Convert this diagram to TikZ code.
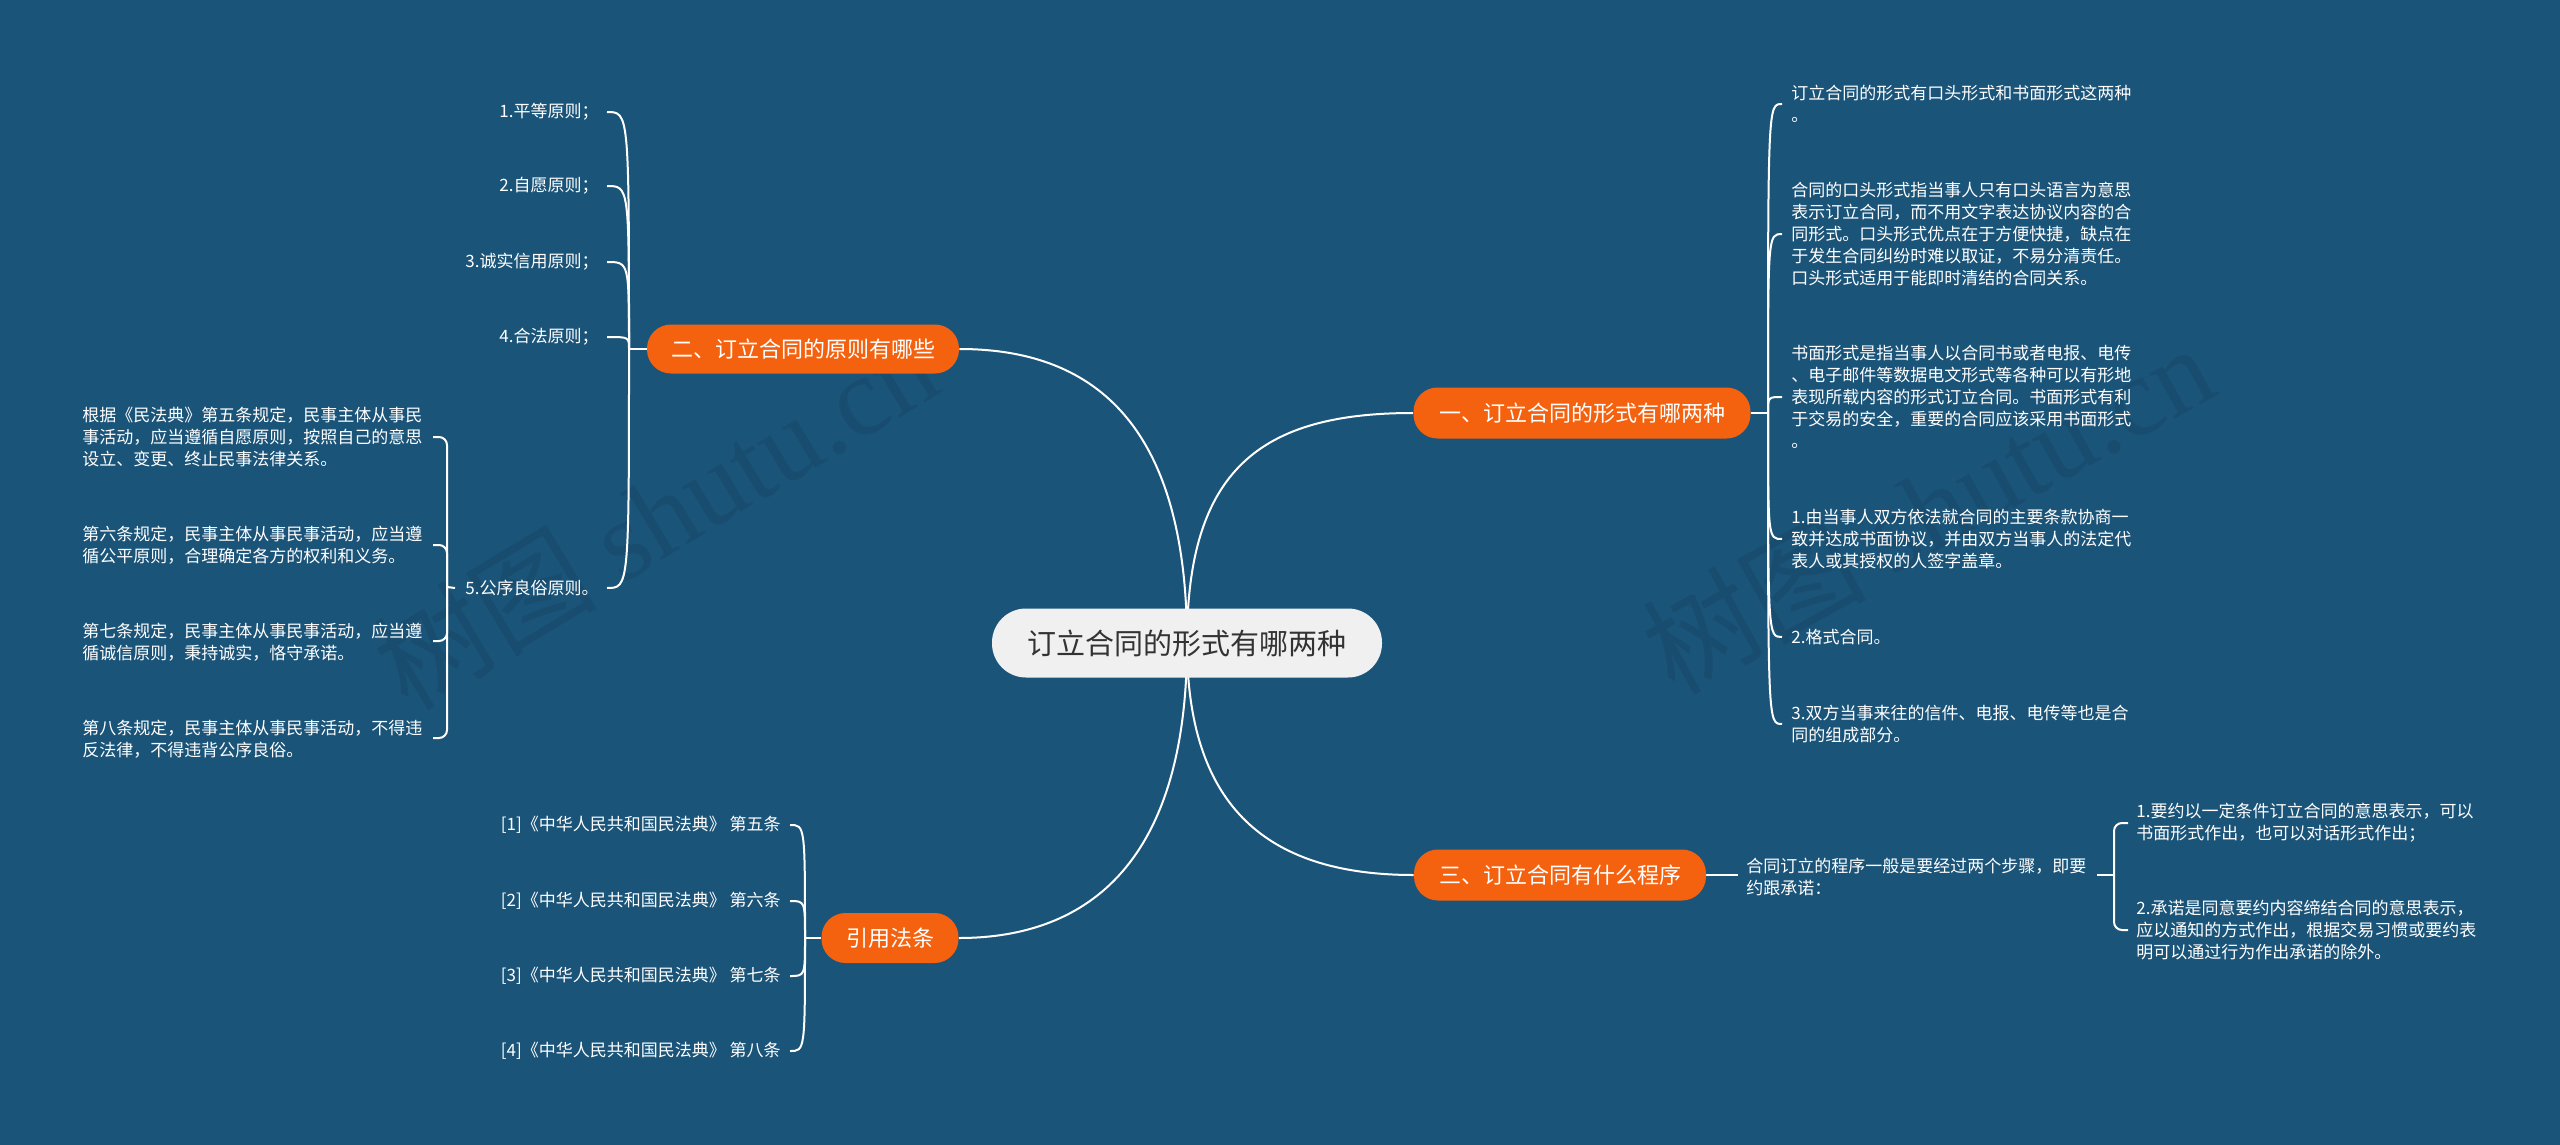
\documentclass[tikz,border=0pt]{standalone}
\usepackage{fontspec}
\setmainfont{Noto Sans CJK SC}
\newfontfamily\wmserif{Liberation Serif}
\definecolor{bgc}{HTML}{1B5479}
\definecolor{orng}{HTML}{F5620F}
\definecolor{rootfill}{HTML}{F0F0F0}
\definecolor{roottext}{HTML}{333333}
\definecolor{wmc}{HTML}{184D70}
\pgfdeclarelayer{bglayer}
\pgfdeclarelayer{linelayer}
\pgfsetlayers{bglayer,linelayer,main}
\begin{document}
\begin{tikzpicture}[x=0.5pt,y=-0.5pt,
  leaf/.style={text=white,font=\fontsize{8.5}{11}\selectfont,inner sep=0pt,align=left},
  leafr/.style={leaf,align=right},
  conn/.style={draw=white,line width=1pt},
  bracketline/.style={conn,rounded corners=4pt},
  rootbox/.style={fill=rootfill,text=roottext,rounded corners=17pt,inner sep=0pt,
    minimum width=195pt,minimum height=34.5pt,font=\fontsize{14.5}{18}\selectfont},
  topic/.style={fill=orng,text=white,rounded corners=12pt,inner sep=0pt,
    font=\fontsize{11}{14}\selectfont},
  wmark/.style={text=wmc,font=\fontsize{56}{60}\selectfont,inner sep=0pt}
]
\useasboundingbox (0,0) rectangle (2560,1145);
\begin{pgfonlayer}{bglayer}
  \fill[bgc] (0,0) rectangle (2560,1145);
  \node[wmark,rotate=31] (wm1) at (655,515) {树图 {\wmserif shutu.cn}};
  \node[wmark,rotate=29] (wm2) at (1927,508) {树图 {\wmserif shutu.cn}};
\end{pgfonlayer}

% root and main topics
\node[rootbox] (root) at (1187,643) {订立合同的形式有哪两种};
\node[topic,minimum width=168.5pt,minimum height=25.5pt] (b1) at (1582,413) {一、订立合同的形式有哪两种};
\node[topic,minimum width=156pt,minimum height=24.5pt] (b2) at (803,349) {二、订立合同的原则有哪些};
\node[topic,minimum width=146pt,minimum height=25.5pt] (b3) at (1560,875) {三、订立合同有什么程序};
\node[topic,minimum width=68.5pt,minimum height=25pt] (b4) at (890,938) {引用法条};

% branch 1 children
\node[leaf,anchor=west] (a1) at (1791,104) {订立合同的形式有口头形式和书面形式这两种\\。};
\node[leaf,anchor=west] (a2) at (1791,234) {合同的口头形式指当事人只有口头语言为意思\\表示订立合同，而不用文字表达协议内容的合\\同形式。口头形式优点在于方便快捷，缺点在\\于发生合同纠纷时难以取证，不易分清责任。\\口头形式适用于能即时清结的合同关系。};
\node[leaf,anchor=west] (a3) at (1791,397) {书面形式是指当事人以合同书或者电报、电传\\、电子邮件等数据电文形式等各种可以有形地\\表现所载内容的形式订立合同。书面形式有利\\于交易的安全，重要的合同应该采用书面形式\\。};
\node[leaf,anchor=west] (a4) at (1791,539) {1.由当事人双方依法就合同的主要条款协商一\\致并达成书面协议，并由双方当事人的法定代\\表人或其授权的人签字盖章。};
\node[leaf,anchor=west] (a5) at (1791,637) {2.格式合同。};
\node[leaf,anchor=west] (a6) at (1791,724) {3.双方当事来往的信件、电报、电传等也是合\\同的组成部分。};

% branch 2 children
\node[leafr,anchor=east] (c1) at (599,112) {1.平等原则；};
\node[leafr,anchor=east] (c2) at (599,186) {2.自愿原则；};
\node[leafr,anchor=east] (c3) at (599,262) {3.诚实信用原则；};
\node[leafr,anchor=east] (c4) at (599,337) {4.合法原则；};
\node[leafr,anchor=east] (c5) at (599,588) {5.公序良俗原则。};

\node[leaf,anchor=west] (d1) at (82,437) {根据《民法典》第五条规定，民事主体从事民\\事活动，应当遵循自愿原则，按照自己的意思\\设立、变更、终止民事法律关系。};
\node[leaf,anchor=west] (d2) at (82,545) {第六条规定，民事主体从事民事活动，应当遵\\循公平原则，合理确定各方的权利和义务。};
\node[leaf,anchor=west] (d3) at (82,642) {第七条规定，民事主体从事民事活动，应当遵\\循诚信原则，秉持诚实，恪守承诺。};
\node[leaf,anchor=west] (d4) at (82,739) {第八条规定，民事主体从事民事活动，不得违\\反法律，不得违背公序良俗。};

% branch 3 children
\node[leaf,anchor=west] (t3) at (1746,877) {合同订立的程序一般是要经过两个步骤，即要\\约跟承诺：};
\node[leaf,anchor=west] (s1) at (2136,823) {1.要约以一定条件订立合同的意思表示，可以\\书面形式作出，也可以对话形式作出；};
\node[leaf,anchor=west] (s2) at (2136,930) {2.承诺是同意要约内容缔结合同的意思表示，\\应以通知的方式作出，根据交易习惯或要约表\\明可以通过行为作出承诺的除外。};

% branch 4 children
\node[leafr,anchor=east] (r1) at (781,825) {[1]《中华人民共和国民法典》 第五条};
\node[leafr,anchor=east] (r2) at (781,901) {[2]《中华人民共和国民法典》 第六条};
\node[leafr,anchor=east] (r3) at (781,976) {[3]《中华人民共和国民法典》 第七条};
\node[leafr,anchor=east] (r4) at (781,1051) {[4]《中华人民共和国民法典》 第八条};

% junctions
\coordinate (j1) at (1768,413);
\coordinate (j2) at (629,349);
\coordinate (j4) at (805,938);
\coordinate (j5) at (447,587);
\coordinate (j3) at (2114,875);
\coordinate (e5a) at (433,437);
\coordinate (e5b) at (433,545);
\coordinate (e5c) at (433,641);
\coordinate (e5d) at (433,738);
\coordinate (e3a) at (2128,823);
\coordinate (e3b) at (2128,930);

\begin{pgfonlayer}{linelayer}
  % root connectors
  \draw[conn] (root.center) .. controls (1187,470) and (1260,413) .. (b1.west);
  \draw[conn] (root.center) .. controls (1187,420) and (1090,349) .. (b2.east);
  \draw[conn] (root.center) .. controls (1187,800) and (1260,875) .. (b3.west);
  \draw[conn] (root.center) .. controls (1187,860) and (1090,938) .. (b4.east);
  % branch 1
  \draw[conn] (b1.east) -- (j1);
  \foreach \n in {a1,a2,a3,a4,a5,a6}
    \draw[conn] (j1) .. controls (j1 |- \n.west) .. ([xshift=-4.5pt]\n.west);
  % branch 2
  \draw[conn] (b2.west) -- (j2);
  \foreach \n in {c1,c2,c3,c4,c5}
    \draw[conn] (j2) .. controls (j2 |- \n.east) .. ([xshift=4pt]\n.east);
  \draw[conn] ([xshift=-5pt]c5.west) -- (j5);
  \foreach \n in {e5a,e5b,e5c,e5d}
    \draw[bracketline] (j5) |- (\n);
  % branch 3
  \draw[conn] (b3.east) -- ([xshift=-4pt]t3.west |- b3.east);
  \draw[conn] ([xshift=5pt]t3.east |- j3) -- (j3);
  \foreach \n in {e3a,e3b}
    \draw[bracketline] (j3) |- (\n);
  % branch 4
  \draw[conn] (b4.west) -- (j4);
  \foreach \n in {r1,r2,r3,r4}
    \draw[conn] (j4) .. controls (j4 |- \n.east) .. ([xshift=4.5pt]\n.east);
\end{pgfonlayer}
\end{tikzpicture}
\end{document}
